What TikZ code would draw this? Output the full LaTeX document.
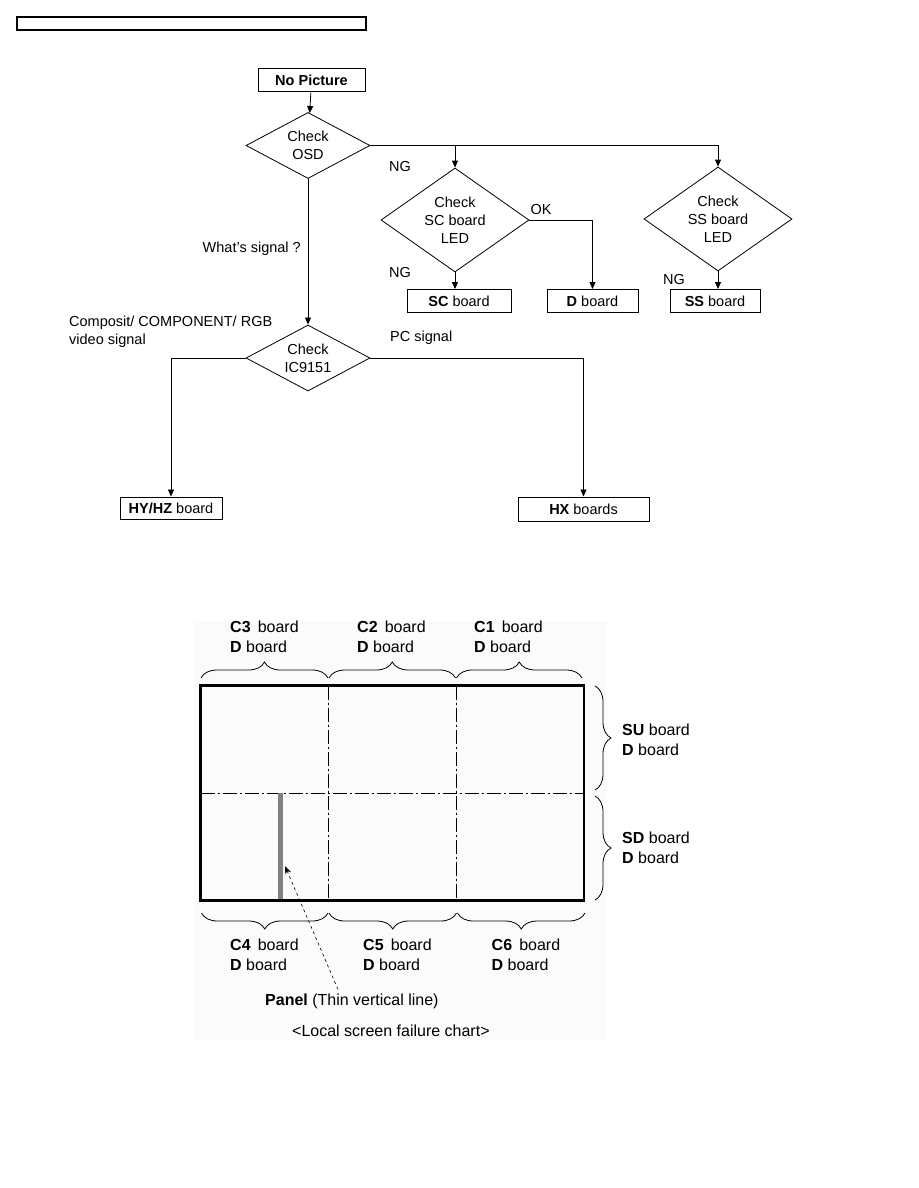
\documentclass[tikz,border=0pt]{standalone}
\usepackage{fontspec}
\setmainfont{Liberation Sans}
\usetikzlibrary{shapes.geometric,decorations.pathreplacing,arrows.meta}

\begin{document}
\begin{tikzpicture}[x=1pt,y=-1pt,
  box/.style={draw,line width=1pt,minimum height=23pt,inner sep=0pt,font=\fontsize{14.5}{18}\selectfont},
  check/.style={draw,diamond,line width=0.8pt,inner sep=0pt,align=center,font=\fontsize{14.5}{18}\selectfont},
  arr/.style={line width=0.8pt,-{Triangle[length=7pt,width=6pt]}},
  lbl/.style={inner sep=0pt,font=\fontsize{14.5}{18}\selectfont},
  part/.style={inner sep=0pt,align=left,anchor=west,font=\fontsize{16}{20}\selectfont},
  brace/.style={decorate,line width=0.8pt,decoration={brace,amplitude=16pt}},
  split/.style={line width=0.6pt,dash pattern=on 14pt off 3pt on 2pt off 3pt}]

\useasboundingbox (0,0) rectangle (918,1188);

\node[draw,line width=1.2pt,minimum width=349pt,minimum height=13pt,inner sep=0pt] (hdr) at (191.5,23.5) {};

\node[box,minimum width=107pt] (nopic) at (311.5,80.5) {\textbf{No Picture}};
\node[check,aspect=1.88,minimum width=124pt,minimum height=66pt] (osd) at (308,145.5) {Check\\OSD};
\node[check,aspect=1.42,minimum width=148pt,minimum height=104pt] (sc) at (455,220) {Check\\SC board\\LED};
\node[check,aspect=1.42,minimum width=148pt,minimum height=104pt] (ss) at (718,219) {Check\\SS board\\LED};
\node[box,minimum width=104pt] (scb) at (459,301) {\textbf{SC} board};
\node[box,minimum width=91pt] (db) at (592.5,301) {\textbf{D} board};
\node[box,minimum width=90pt] (ssb) at (715,301) {\textbf{SS} board};
\node[check,aspect=1.88,minimum width=124pt,minimum height=66pt] (ic) at (308,358) {Check\\IC9151};
\node[box,minimum width=102pt,minimum height=22pt] (hyhz) at (171,508) {\textbf{HY/HZ} board};
\node[box,minimum width=131pt,minimum height=24pt] (hx) at (583.5,509) {\textbf{HX} boards};

\node[lbl] (ng1) at (400,167) {NG};
\node[lbl] (ok) at (541,210) {OK};
\node[lbl] (ng2) at (400,273) {NG};
\node[lbl] (ng3) at (674,280) {NG};
\node[lbl,anchor=east] (what) at (301,249) {What's signal ?};
\node[lbl,anchor=west,align=left] (video) at (69,331.5) {Composit/ COMPONENT/ RGB\\video signal};
\node[lbl,anchor=west] (pc) at (390,338) {PC signal};

\draw[arr] (nopic) -- (osd);
\draw[arr] (osd.east) -| (ss.north);
\draw[arr] (sc.north |- osd.east) -- (sc.north);
\draw[arr] (sc) -- (sc.south |- scb.north);
\draw[arr] (sc.east) -| (db.north);
\draw[arr] (ss) -- (ss.south |- ssb.north);
\draw[arr] (osd) -- (ic);
\draw[arr] (ic.west) -| (hyhz.north);
\draw[arr] (ic.east) -| (hx.north);

\fill[black!1.5] (195,622) rectangle (607,1040);
\draw[split] (328,685.5) -- (328,900.5);
\draw[split] (456.5,685.5) -- (456.5,900.5);
\draw[split] (200.5,793) -- (584,793);
\draw[black!50,line width=5pt] (280,793) -- (280,899);
\draw[line width=2.4pt] (200.5,685.5) rectangle (584,900.5);

\draw[brace] (201,678) -- (328,678);
\draw[brace] (329,678) -- (455.5,678);
\draw[brace] (456.5,678) -- (582,678);
\draw[brace] (595,686) -- (595,790);
\draw[brace] (595,796) -- (595,900);
\draw[brace] (328,913) -- (201.5,913);
\draw[brace] (456.5,913) -- (329,913);
\draw[brace] (585,913) -- (457.5,913);

\node[part] (c3) at (230,637) {\textbf{C3}\, board\\\textbf{D} board};
\node[part] (c2) at (357,637) {\textbf{C2}\, board\\\textbf{D} board};
\node[part] (c1) at (474,637) {\textbf{C1}\, board\\\textbf{D} board};
\node[part] (su) at (622,740) {\textbf{SU} board\\\textbf{D} board};
\node[part] (sd) at (622,847.5) {\textbf{SD} board\\\textbf{D} board};
\node[part] (c4) at (230,954.5) {\textbf{C4}\, board\\\textbf{D} board};
\node[part] (c5) at (363,954.5) {\textbf{C5}\, board\\\textbf{D} board};
\node[part] (c6) at (491.5,954.5) {\textbf{C6}\, board\\\textbf{D} board};
\node[part] (panel) at (265,1001) {\textbf{Panel} (Thin vertical line)};
\node[part] (chart) at (292,1031) {<Local screen failure chart>};

\coordinate (tip) at (285,866);
\draw[line width=0.6pt,dashed,-{Stealth[length=8pt,width=6pt]}] ([xshift=73pt,yshift=4pt]panel.north west) -- (tip);

\end{tikzpicture}
\end{document}
